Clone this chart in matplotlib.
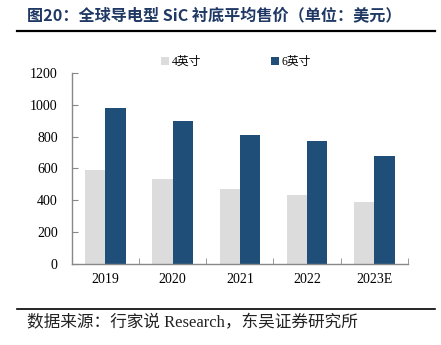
import matplotlib
matplotlib.use("Agg")
import matplotlib.pyplot as plt
import numpy as np
from matplotlib.lines import Line2D

categories = ["2019", "2020", "2021", "2022", "2023E"]
series_4in = [590, 530, 470, 430, 390]
series_6in = [980, 900, 810, 770, 680]
legend_labels = ["4英寸", "6英寸"]
yticks = [0, 200, 400, 600, 800, 1000, 1200]

title = "图20：全球导电型 SiC 衬底平均售价（单位：美元）"
source = "数据来源：行家说 Research，东吴证券研究所"

cjk = ["Noto Sans CJK SC", "DejaVu Sans"]
serif_cjk = ["Liberation Serif", "Noto Sans CJK SC"]

W, H = 441, 345
fig = plt.figure(figsize=(W / 100, H / 100), dpi=100)

ax = fig.add_axes([71.7 / W, (H - 263.7) / H, (408 - 71.7) / W, (263.7 - 73) / H])
x = np.arange(len(categories))
bw = 0.3
c_light = "#dcdcdc"
c_dark = "#1f4e79"
ax.bar(x - bw / 2, series_4in, width=bw, color=c_light, label=legend_labels[0])
ax.bar(x + bw / 2, series_6in, width=bw, color=c_dark, label=legend_labels[1])

ax.set_xlim(-0.5, len(categories) - 0.5)
ax.set_ylim(0, 1200)
ax.set_yticks(yticks)
ax.set_yticklabels([str(v) for v in yticks], family="Liberation Serif", fontsize=10)
ax.set_xticks(x)
ax.set_xticklabels(categories, family="Liberation Serif", fontsize=10)
ax.tick_params(axis="x", length=0, pad=7)
ax.set_xticks(np.arange(-0.5, len(categories), 1.0), minor=True)
ax.tick_params(axis="x", which="minor", direction="in", length=4, color="#888888")
ax.tick_params(axis="y", direction="in", length=4, color="#888888", pad=10)
for s in ["top", "right"]:
    ax.spines[s].set_visible(False)
for s in ["left", "bottom"]:
    ax.spines[s].set_color("#888888")
    ax.spines[s].set_linewidth(1.0)

leg = fig.legend(loc="center", bbox_to_anchor=(236 / W, (H - 62) / H), ncol=2,
                 frameon=False, prop={"family": serif_cjk, "size": 8.5},
                 handlelength=0.7, handleheight=0.7, handletextpad=0.2,
                 columnspacing=5.9)

fig.text(27 / W, (H - 15) / H, title, family=cjk, fontsize=11.6, fontweight="bold",
         color="#1f3864", va="center", ha="left")
fig.add_artist(Line2D([17 / W, 435 / W], [(H - 31) / H] * 2, color="black", lw=1.6))
fig.add_artist(Line2D([17 / W, 435 / W], [(H - 309) / H] * 2, color="black", lw=1.2))
fig.text(27 / W, (H - 323) / H, source, family=serif_cjk, fontsize=12,
         color="#222222", va="center", ha="left")

fig.savefig("out.png", dpi=100)
